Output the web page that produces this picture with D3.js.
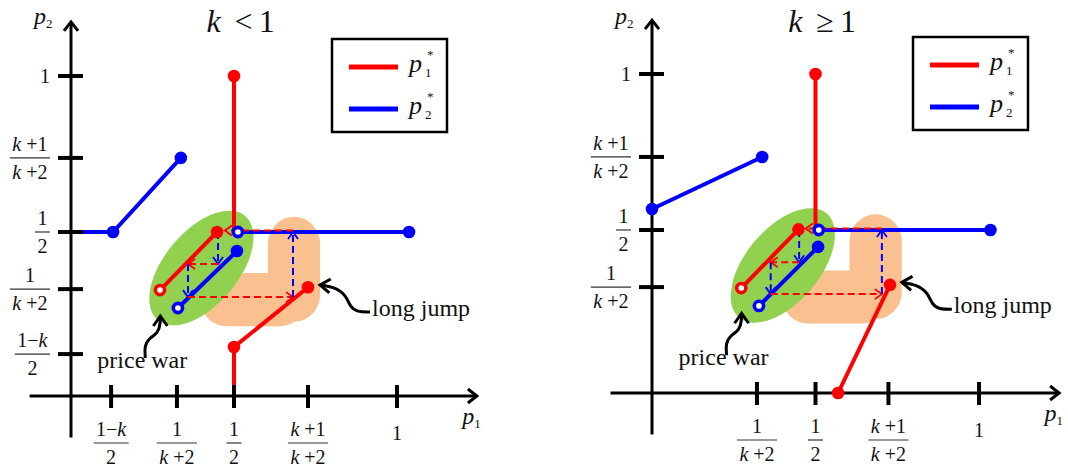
<!DOCTYPE html>
<html>
<head>
<meta charset="utf-8">
<script src="https://cdn.jsdelivr.net/npm/d3@7"></script>
<style>
  body { margin: 0; background: #fff; }
  svg { display: block; }
  svg text { font-family: "Liberation Serif", "Times New Roman", serif; fill: #111; }
</style>
</head>
<body>
<div id="chart"></div>
<script>
// Best-response schematic, two panels (k < 1 and k >= 1). Units are schematic:
// 0 = origin, 1 = the "1" tick on each axis, positions.
const titles = [["k", "<", "1"], ["k", "≥", "1"]];

const xTickVals = [[0.123, 0.325, 0.5, 0.727, 1], [0.321, 0.5, 0.723, 1]];
const xTickLabels = [
  [["1−k", "2"], ["1", "k +2"], ["1", "2"], ["k +1", "k +2"], ["1"]],
  [["1", "k +2"], ["1", "2"], ["k +1", "k +2"], ["1"]]
];
const yTickVals = [[0.131, 0.334, 0.5125, 0.744, 1], [0.332, 0.511, 0.74, 1]];
const yTickLabels = [
  [["1−k", "2"], ["1", "k +2"], ["1", "2"], ["k +1", "k +2"], ["1"]],
  [["1", "k +2"], ["1", "2"], ["k +1", "k +2"], ["1"]]
];

// p1* (red) segments
const redLines = [
  [[[0.5, 0.5125], [0.5, 1]], [[0.273, 0.331], [0.448, 0.5125]], [[0.5, 0], [0.5, 0.153], [0.727, 0.34]]],
  [[[0.5, 0.511], [0.5, 1]], [[0.273, 0.329], [0.448, 0.513]], [[0.569, 0], [0.728, 0.339]]]
];
const redDots = [
  [[0.5, 1], [0.448, 0.5125], [0.5, 0.153], [0.727, 0.34]],
  [[0.5, 1], [0.448, 0.513], [0.569, 0], [0.728, 0.339]]
];
const redOpen = [[[0.273, 0.331]], [[0.273, 0.329]]];

// p2* (blue) segments
const blueLines = [
  [[[0, 0.5125], [0.129, 0.5125], [0.337, 0.744]], [[0.512, 0.5125], [1.037, 0.5125]], [[0.328, 0.275], [0.509, 0.453]]],
  [[[0, 0.577], [0.337, 0.74]], [[0.51, 0.511], [1.035, 0.511]], [[0.327, 0.273], [0.508, 0.458]]]
];
const blueDots = [
  [[0.129, 0.5125], [0.337, 0.744], [1.037, 0.5125], [0.509, 0.453]],
  [[0, 0.577], [0.337, 0.74], [1.035, 0.511], [0.508, 0.458]]
];
const blueOpen = [[[0.512, 0.5125], [0.328, 0.275]], [[0.51, 0.511], [0.327, 0.273]]];

// Edgeworth cycle, dashed arrows [series, from, to]
const cycleSteps = [
  [["p2", [0.451, 0.5125], [0.451, 0.4125]], ["p1", [0.451, 0.4125], [0.359, 0.4125]],
   ["p2", [0.359, 0.4125], [0.359, 0.309]], ["p1", [0.359, 0.309], [0.681, 0.309]],
   ["p2", [0.681, 0.309], [0.681, 0.5125]], ["p1", [0.681, 0.517], [0.472, 0.517]]],
  [["p2", [0.45, 0.511], [0.45, 0.41]], ["p1", [0.45, 0.41], [0.363, 0.41]],
   ["p2", [0.363, 0.41], [0.363, 0.31]], ["p1", [0.363, 0.31], [0.703, 0.31]],
   ["p2", [0.703, 0.31], [0.703, 0.511]], ["p1", [0.703, 0.516], [0.47, 0.516]]]
];

// annotation anchors
const priceWarCenter = [0.4, 0.4];
const longJumpBoxes = [[[0.397, 0.72], [0.218, 0.384]], [[0.604, 0.764], [0.232, 0.56]]];
const longJumpTip = [0.764, 0.347];
const priceWarTip = [0.274, 0.25];
const annotations = ["long jump", "price war"];
const legendLabels = [["p", "1"], ["p", "2"]];

const colors = { p1: "#ff0000", p2: "#0000ff" };

const W = 1068, H = 472;
const frames = [
  { x0: 71, x1: 397, y0: 396, y1: 76 },
  { x0: 652, x1: 979, y0: 393, y1: 74 }
];

const svg = d3.select("#chart").append("svg").attr("width", W).attr("height", H);

function chevron(g, tip, from, len, half, color, sw) {
  const dx = tip[0] - from[0], dy = tip[1] - from[1];
  const d = Math.hypot(dx, dy) || 1;
  const ux = dx / d, uy = dy / d;
  const bx = tip[0] - ux * len, by = tip[1] - uy * len;
  g.append("path")
    .attr("d", `M${bx - uy * half},${by + ux * half}L${tip[0]},${tip[1]}L${bx + uy * half},${by - ux * half}`)
    .attr("fill", "none").attr("stroke", color).attr("stroke-width", sw)
    .attr("stroke-linejoin", "miter").attr("stroke-linecap", "butt");
}

function rich(t, str) {
  str.split(/(k)/).filter(s => s.length).forEach(s => {
    t.append("tspan").attr("font-style", s === "k" ? "italic" : null).text(s);
  });
}

// fraction (or single label) centred at cx, bar at barY
function fraction(g, cx, barY, parts, fs) {
  const fg = g.append("g").attr("transform", `translate(${cx},${barY})`);
  if (parts.length === 1) {
    const t = fg.append("text").attr("text-anchor", "middle").attr("font-size", fs).attr("y", 7);
    rich(t, parts[0]);
    return { g: fg, w: t.node().getComputedTextLength() };
  }
  const n = fg.append("text").attr("text-anchor", "middle").attr("font-size", fs).attr("y", -7);
  rich(n, parts[0]);
  const dd = fg.append("text").attr("text-anchor", "middle").attr("font-size", fs).attr("y", 21);
  rich(dd, parts[1]);
  const w = Math.max(n.node().getComputedTextLength(), dd.node().getComputedTextLength()) + 5;
  fg.append("line").attr("x1", -w / 2).attr("x2", w / 2).attr("y1", 0).attr("y2", 0)
    .attr("stroke", "#333").attr("stroke-width", 1.2);
  return { g: fg, w };
}

frames.forEach((fr, i) => {
  const x = d3.scaleLinear().domain([0, 1]).range([fr.x0, fr.x1]);
  const y = d3.scaleLinear().domain([0, 1]).range([fr.y0, fr.y1]);
  const g = svg.append("g");
  const P = p => [x(p[0]), y(p[1])];

  // long-jump zone (orange)
  longJumpBoxes.forEach(([bx, by]) => {
    g.append("rect")
      .attr("x", x(bx[0])).attr("width", x(bx[1]) - x(bx[0]))
      .attr("y", y(by[1])).attr("height", y(by[0]) - y(by[1]))
      .attr("rx", 26).attr("ry", 27).attr("fill", "#fac090");
  });
  // price-war zone (green)
  g.append("ellipse")
    .attr("transform", `translate(${x(priceWarCenter[0])},${y(priceWarCenter[1])}) rotate(-50)`)
    .attr("rx", 68).attr("ry", 37).attr("fill", "#92d050");

  // axes
  const ax = [-0.127, 1.245], ay = [-0.13, 1.169];
  g.append("line").attr("x1", x(ax[0])).attr("x2", x(ax[1])).attr("y1", y(0)).attr("y2", y(0))
    .attr("stroke", "#000").attr("stroke-width", 3);
  g.append("line").attr("x1", x(0)).attr("x2", x(0)).attr("y1", y(ay[0])).attr("y2", y(ay[1]))
    .attr("stroke", "#000").attr("stroke-width", 3);
  chevron(g, [x(ax[1]), y(0)], [x(ax[1]) - 10, y(0)], 9, 7, "#000", 3);
  chevron(g, [x(0), y(ay[1])], [x(0), y(ay[1]) + 10], 9, 7, "#000", 3);

  // solid best-response lines
  const line = d3.line().x(d => x(d[0])).y(d => y(d[1]));
  redLines[i].forEach(seg => g.append("path").attr("d", line(seg)).attr("fill", "none")
    .attr("stroke", colors.p1).attr("stroke-width", 4));
  blueLines[i].forEach(seg => g.append("path").attr("d", line(seg)).attr("fill", "none")
    .attr("stroke", colors.p2).attr("stroke-width", 4));

  // ticks
  xTickVals[i].forEach(v => g.append("line").attr("x1", x(v)).attr("x2", x(v))
    .attr("y1", y(0) - 11).attr("y2", y(0) + 12).attr("stroke", "#000").attr("stroke-width", 4));
  yTickVals[i].forEach(v => g.append("line").attr("x1", x(0) - 13).attr("x2", x(0) + 12)
    .attr("y1", y(v)).attr("y2", y(v)).attr("stroke", "#000").attr("stroke-width", 4));

  // dashed cycle
  cycleSteps[i].forEach(([s, a, b]) => {
    g.append("path").attr("d", line([a, b])).attr("fill", "none")
      .attr("stroke", colors[s]).attr("stroke-width", 2).attr("stroke-dasharray", "7,4");
    chevron(g, P(b), P(a), 7, 5, colors[s], 1.8);
  });

  // dots
  redDots[i].forEach(p => g.append("circle").attr("cx", x(p[0])).attr("cy", y(p[1])).attr("r", 6.3).attr("fill", colors.p1));
  blueDots[i].forEach(p => g.append("circle").attr("cx", x(p[0])).attr("cy", y(p[1])).attr("r", 6.3).attr("fill", colors.p2));
  redOpen[i].forEach(p => g.append("circle").attr("cx", x(p[0])).attr("cy", y(p[1])).attr("r", 4.6)
    .attr("fill", "#fff").attr("stroke", colors.p1).attr("stroke-width", 3.6));
  blueOpen[i].forEach(p => g.append("circle").attr("cx", x(p[0])).attr("cy", y(p[1])).attr("r", 4.6)
    .attr("fill", "#fff").attr("stroke", colors.p2).attr("stroke-width", 3.6));

  // tick labels
  xTickVals[i].forEach((v, j) => {
    const lab = xTickLabels[i][j];
    fraction(g, x(v), lab.length === 1 ? y(0) + 37 : y(0) + 47, lab, 20);
  });
  yTickVals[i].forEach((v, j) => {
    const f = fraction(g, 0, y(v), yTickLabels[i][j], 20);
    f.g.attr("transform", `translate(${x(0) - 21 - f.w / 2},${y(v)})`);
  });

  // axis names
  const an = (tx, ty, sub) => {
    g.append("text").attr("x", tx).attr("y", ty).attr("font-size", 24).attr("font-style", "italic").text("p");
    g.append("text").attr("x", tx + 12).attr("y", ty + 4).attr("font-size", 13).text(sub);
  };
  an(x(0) - 37, 24, "2");
  an(x(1.2), y(0) + 28, "1");

  // title
  const tt = g.append("text").attr("x", x(0.52)).attr("y", 32).attr("text-anchor", "middle").attr("font-size", 32);
  tt.append("tspan").attr("font-style", "italic").text(titles[i][0]);
  tt.append("tspan").attr("dx", 14).text(titles[i][1]);
  tt.append("tspan").attr("dx", 6).text(titles[i][2]);

  // legend
  const lx = x(0) + 261, ly = y(1) - 37;
  g.append("rect").attr("x", lx).attr("y", ly).attr("width", 115).attr("height", 93)
    .attr("fill", "#fff").attr("stroke", "#000").attr("stroke-width", 2.5);
  legendLabels.forEach((lab, j) => {
    const base = ly + 33 + j * 42;
    g.append("line").attr("x1", lx + 17).attr("x2", lx + 66).attr("y1", base - 5).attr("y2", base - 5)
      .attr("stroke", j === 0 ? colors.p1 : colors.p2).attr("stroke-width", 5);
    g.append("text").attr("x", lx + 77).attr("y", base).attr("font-size", 26).attr("font-style", "italic").text(lab[0]);
    g.append("text").attr("x", lx + 93).attr("y", base + 5).attr("font-size", 13).text(lab[1]);
    g.append("text").attr("x", lx + 95).attr("y", base - 13).attr("font-size", 13).text("*");
  });

  // annotations with curly arrows
  const curve = d3.line().curve(d3.curveBasis);
  const lj = P(longJumpTip);
  const ljPts = [[50, 27], [37, 27], [30, 22], [26, 10], [14, 2], [0, 0]].map(d => [lj[0] + d[0], lj[1] + d[1]]);
  g.append("path").attr("d", curve(ljPts)).attr("fill", "none").attr("stroke", "#000").attr("stroke-width", 3);
  chevron(g, lj, [lj[0] + 10, lj[1] + 1], 10, 7, "#000", 3);
  g.append("text").attr("x", lj[0] + 52).attr("y", lj[1] + 31).attr("font-size", 24).text(annotations[0]);

  const pw = P(priceWarTip);
  const pwPts = [[-15, 42], [-16, 30], [-11, 22], [-2, 17], [0, 7], [0, 0]].map(d => [pw[0] + d[0], pw[1] + d[1]]);
  g.append("path").attr("d", curve(pwPts)).attr("fill", "none").attr("stroke", "#000").attr("stroke-width", 3);
  chevron(g, pw, [pw[0], pw[1] + 10], 10, 7, "#000", 3);
  g.append("text").attr("x", pw[0] - 63).attr("y", pw[1] + 52).attr("font-size", 24).text(annotations[1]);
});
</script>
</body>
</html>
